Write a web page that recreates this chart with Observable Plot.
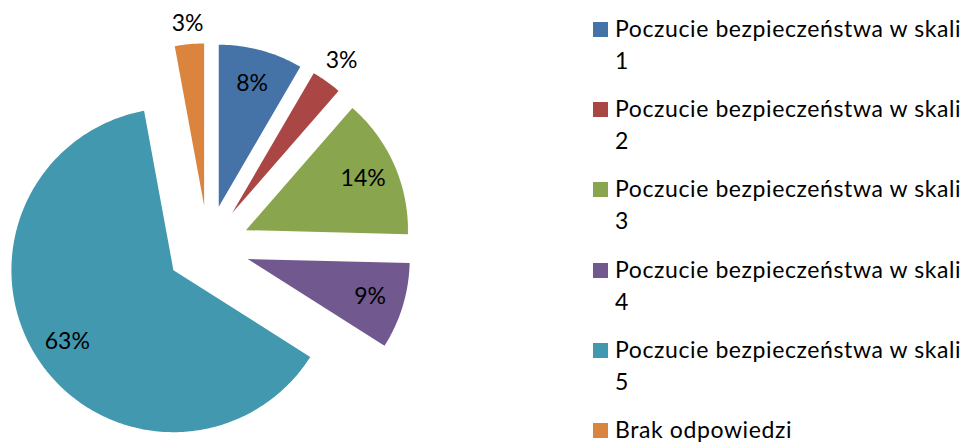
<!DOCTYPE html>
<html><head><meta charset="utf-8">
<script src="https://cdn.jsdelivr.net/npm/d3@7"></script>
<script src="https://cdn.jsdelivr.net/npm/@observablehq/plot@0.6"></script>
<style>
html,body{margin:0;padding:0;background:#fff;}
#chart{position:relative;width:969px;height:442px;overflow:hidden;font-family:Lato,sans-serif;}
#chart svg{position:absolute;left:0;top:0;}
.legend{position:absolute;left:593px;top:12px;width:376px;}
.item{display:flex;align-items:flex-start;height:80.2px;}
.sw{width:15px;height:15px;flex:none;margin-top:10px;margin-right:7px;}
.lab{font-size:23px;line-height:32px;letter-spacing:0.6px;color:#000;width:354px;}
</style></head>
<body><div id="chart"></div>
<script>
const categories = [
  "Poczucie bezpieczeństwa w skali 1",
  "Poczucie bezpieczeństwa w skali 2",
  "Poczucie bezpieczeństwa w skali 3",
  "Poczucie bezpieczeństwa w skali 4",
  "Poczucie bezpieczeństwa w skali 5",
  "Brak odpowiedzi"
];
const values = [8.4, 3.0, 14.0, 8.6, 63.1, 2.9];
const colors = ["#4572A7", "#AA4643", "#89A54E", "#71588F", "#4198AF", "#DB843D"];

const W = 969, H = 442;
const R = 162, D = 41.6, CX = 207.4, CY = 246.4;
const labelSize = 23;

const data = categories.map((c, i) => ({cat: c, value: values[i]}));
const arcs = d3.pie().sort(null).value(d => d.value)(data);

const pts = [];
const labelData = [];
arcs.forEach(a => {
  const mid = (a.startAngle + a.endAngle) / 2;
  const ox = CX + D * Math.sin(mid), oy = CY - D * Math.cos(mid);
  const cat = a.data.cat;
  pts.push({x: ox, y: oy, cat});
  const n = Math.max(8, Math.ceil((a.endAngle - a.startAngle) * 60));
  for (let k = 0; k <= n; k++) {
    const t = a.startAngle + (a.endAngle - a.startAngle) * k / n;
    pts.push({x: ox + R * Math.sin(t), y: oy - R * Math.cos(t), cat});
  }
  pts.push({x: ox, y: oy, cat});
  const label = Math.round(a.data.value) + "%";
  let r;
  if (a.data.value >= 5) r = 0.79 * R;
  else {
    const hw = label.length * 0.68 * labelSize / 2, hh = 12;
    r = R + 7 + hw * Math.abs(Math.sin(mid)) + hh * Math.abs(Math.cos(mid));
  }
  labelData.push({x: ox + r * Math.sin(mid), y: oy - r * Math.cos(mid), label});
});

const svg = Plot.plot({
  width: W, height: H, margin: 0,
  x: {domain: [0, W], range: [0, W], axis: null},
  y: {domain: [0, H], range: [0, H], axis: null},
  color: {domain: categories, range: colors},
  marks: [
    Plot.line(pts, {x: "x", y: "y", z: "cat", fill: "cat", stroke: "none", curve: "linear"}),
    Plot.text(labelData, {x: "x", y: "y", text: "label", fontSize: labelSize, fill: "#000", fontFamily: "Lato, sans-serif"})
  ]
});
const chart = document.getElementById("chart");
chart.appendChild(svg);

const legend = document.createElement("div");
legend.className = "legend";
categories.forEach((c, i) => {
  const item = document.createElement("div");
  item.className = "item";
  const sw = document.createElement("div");
  sw.className = "sw";
  sw.style.background = colors[i];
  const lab = document.createElement("div");
  lab.className = "lab";
  lab.textContent = c;
  item.appendChild(sw); item.appendChild(lab);
  legend.appendChild(item);
});
chart.appendChild(legend);
</script>
</body></html>
